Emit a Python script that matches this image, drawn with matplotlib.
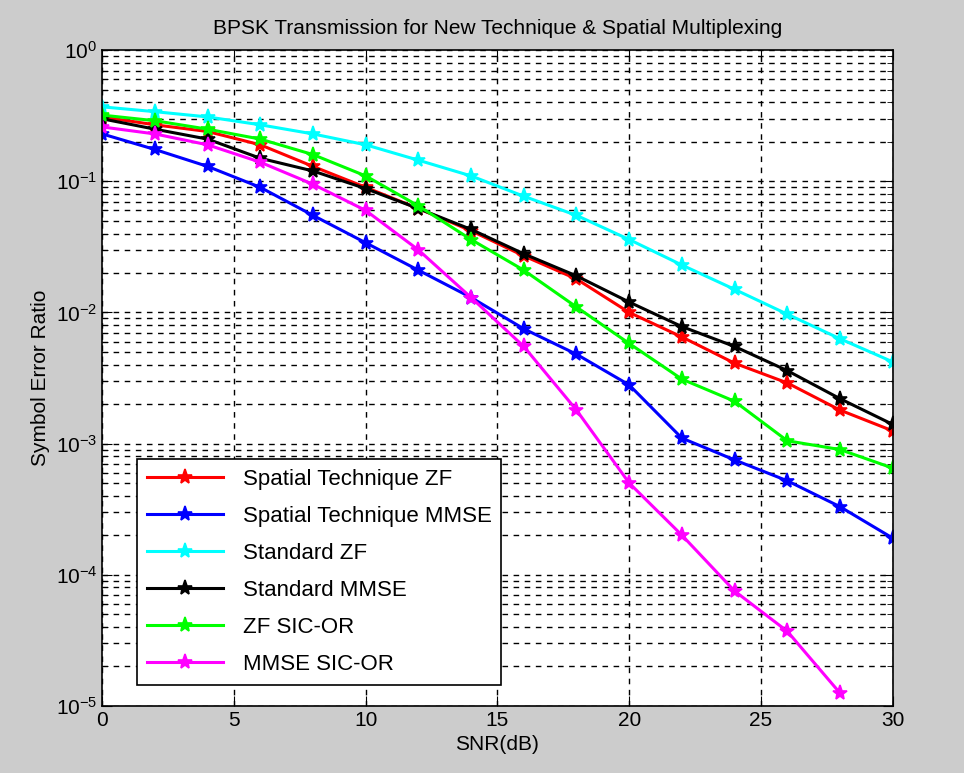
import numpy as np
import matplotlib.pyplot as plt
from matplotlib.ticker import LogLocator, NullFormatter

plt.rcParams['font.family'] = ['Liberation Sans', 'DejaVu Sans']

snr = np.arange(0, 31, 2)
snr_mmse_sic = np.arange(0, 29, 2)

# symbol error ratio
ser_spatial_zf = [0.31, 0.27, 0.24, 0.19, 0.13, 0.09, 0.062, 0.042, 0.027, 0.018,
                  0.010, 0.0065, 0.0041, 0.0029, 0.0018, 0.00125]
ser_spatial_mmse = [0.23, 0.175, 0.13, 0.09, 0.055, 0.034, 0.021, 0.013, 0.0075, 0.0048,
                    0.0028, 0.0011, 0.00075, 0.00052, 0.00033, 0.00019]
ser_std_zf = [0.37, 0.34, 0.31, 0.27, 0.23, 0.19, 0.145, 0.11, 0.077, 0.055,
              0.036, 0.023, 0.015, 0.0097, 0.0063, 0.0042]
ser_std_mmse = [0.30, 0.25, 0.21, 0.15, 0.12, 0.088, 0.062, 0.043, 0.028, 0.019,
                0.012, 0.0078, 0.0055, 0.0036, 0.0022, 0.0014]
ser_zf_sic = [0.32, 0.29, 0.25, 0.21, 0.16, 0.11, 0.065, 0.036, 0.021, 0.011,
              0.0058, 0.0031, 0.0021, 0.00105, 0.0009, 0.00065]
ser_mmse_sic = [0.26, 0.23, 0.19, 0.14, 0.095, 0.06, 0.03, 0.013, 0.0055, 0.0018,
                0.0005, 0.0002, 7.5e-5, 3.7e-5, 1.25e-5]

fig = plt.figure(figsize=(9.64, 7.73), dpi=100, facecolor='#cccccc')
ax = fig.add_axes([0.106, 0.087, 0.82, 0.848])

sty = dict(marker='*', markersize=11, markeredgewidth=1.2, linewidth=2.2)
ax.semilogy(snr, ser_spatial_zf, color='#ff0000', label='Spatial Technique ZF', **sty)
ax.semilogy(snr, ser_spatial_mmse, color='#0000ff', label='Spatial Technique MMSE', **sty)
ax.semilogy(snr, ser_std_zf, color='#00ffff', label='Standard ZF', **sty)
ax.semilogy(snr, ser_std_mmse, color='#000000', label='Standard MMSE', **sty)
ax.semilogy(snr, ser_zf_sic, color='#00ff00', label='ZF SIC-OR', **sty)
ax.semilogy(snr_mmse_sic, ser_mmse_sic, color='#ff00ff', label='MMSE SIC-OR', **sty)

ax.set_xlim(0, 30)
ax.set_ylim(1e-5, 1)
ax.set_xticks(range(0, 31, 5))
ax.yaxis.set_major_locator(LogLocator(base=10, numticks=10))
ax.yaxis.set_minor_locator(LogLocator(base=10, subs=np.arange(2, 10), numticks=20))
ax.yaxis.set_minor_formatter(NullFormatter())
ax.grid(True, which='major', color='black', linestyle=(0, (4, 4)), linewidth=1)
ax.grid(True, which='minor', axis='y', color='black', linestyle=(0, (4, 4)), linewidth=1)
ax.tick_params(which='both', direction='in', top=True, right=True, labelsize=15)
ax.tick_params(which='major', length=7)
ax.tick_params(which='minor', length=4)
for s in ax.spines.values():
    s.set_linewidth(1.2)

ax.set_title('BPSK Transmission for New Technique & Spatial Multiplexing', fontsize=15, pad=12)
ax.set_xlabel('SNR(dB)', fontsize=15, labelpad=4)
ax.set_ylabel('Symbol Error Ratio', fontsize=15)

leg = ax.legend(loc='lower left', bbox_to_anchor=(0.044, 0.032), borderaxespad=0,
                fontsize=16, fancybox=False, framealpha=1, edgecolor='black',
                handlelength=3.4, borderpad=0.45, labelspacing=0.72, handletextpad=0.9)
leg.get_frame().set_linewidth(1.2)

fig.savefig('out.png', dpi=100, facecolor=fig.get_facecolor())
